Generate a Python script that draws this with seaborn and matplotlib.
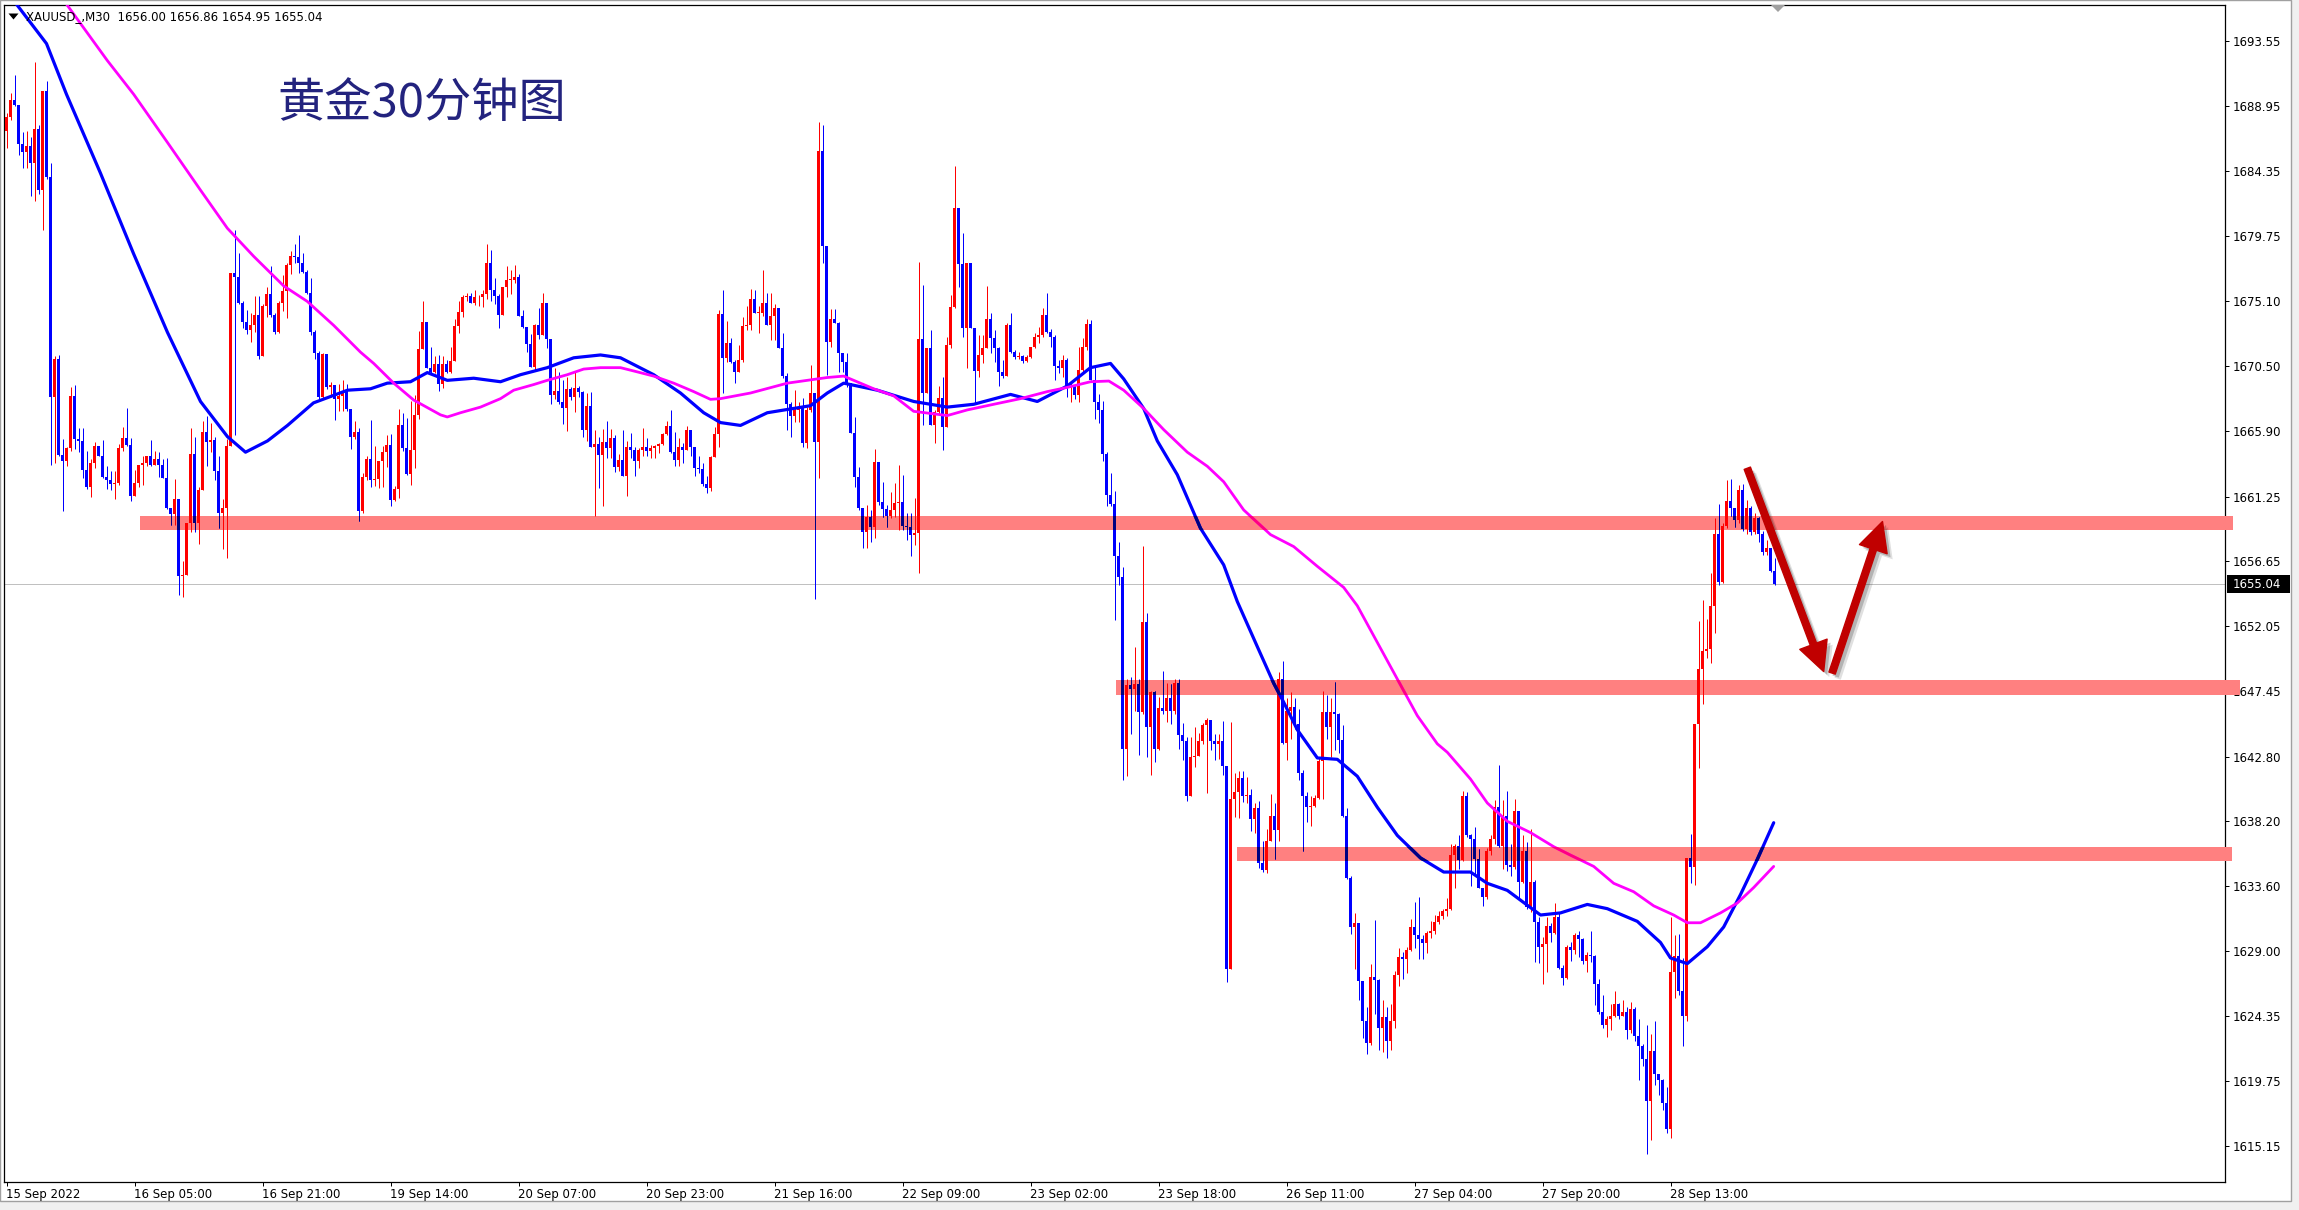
import numpy as np
import pandas as pd
import matplotlib
matplotlib.use("Agg")
import matplotlib.pyplot as plt
import seaborn as sns
from matplotlib import font_manager
from matplotlib import patheffects as pe
from matplotlib.patches import Rectangle, Polygon, FancyArrowPatch

# ---------------- data (XAUUSD M30) ----------------
closes = [
    1688.21, 1689.43, 1689.06, 1686.25, 1685.69, 1686.13, 1684.96, 1687.35, 1683.00, 1690.04,
    1683.93, 1668.29, 1670.98, 1664.18, 1663.77, 1664.67, 1668.41, 1665.36, 1665.16, 1663.16,
    1661.93, 1663.65, 1664.82, 1664.13, 1662.67, 1662.42, 1662.13, 1662.23, 1664.67, 1665.41,
    1664.92, 1661.32, 1662.23, 1663.52, 1663.60, 1664.13, 1663.52, 1663.89, 1663.52, 1662.55,
    1660.47, 1659.98, 1661.08, 1655.58, 1655.70, 1659.37, 1664.26, 1659.37, 1661.69, 1665.84,
    1665.11, 1665.23, 1663.03, 1660.10, 1660.47, 1664.87, 1677.09, 1676.84, 1675.01, 1673.67,
    1673.05, 1673.42, 1674.15, 1671.22, 1674.77, 1675.62, 1674.15, 1672.93, 1675.01, 1675.87,
    1677.70, 1678.31, 1678.26, 1677.82, 1677.21, 1675.67, 1672.93, 1671.47, 1668.29, 1671.34,
    1669.02, 1669.14, 1668.17, 1668.41, 1668.66, 1667.43, 1665.48, 1665.84, 1660.22, 1662.67,
    1663.89, 1662.44, 1662.49, 1663.74, 1664.38, 1664.92, 1661.02, 1661.78, 1666.34, 1664.69,
    1662.86, 1664.57, 1667.05, 1671.71, 1673.65, 1670.36, 1670.06, 1670.67, 1669.25, 1670.67,
    1670.06, 1670.88, 1673.37, 1674.36, 1675.38, 1675.50, 1675.02, 1675.38, 1675.45, 1675.64,
    1677.81, 1675.92, 1675.50, 1674.15, 1676.11, 1676.59, 1676.63, 1676.82, 1674.08, 1673.25,
    1672.09, 1670.48, 1673.44, 1672.73, 1674.98, 1672.42, 1668.47, 1668.71, 1667.93, 1667.53,
    1668.87, 1668.35, 1668.94, 1668.64, 1665.99, 1667.69, 1664.76, 1664.99, 1664.21, 1665.09,
    1664.69, 1665.40, 1663.34, 1663.86, 1662.68, 1664.80, 1664.52, 1663.74, 1664.52, 1664.80,
    1664.45, 1664.69, 1664.85, 1664.99, 1665.70, 1666.27, 1664.38, 1663.81, 1664.76, 1664.52,
    1665.99, 1664.76, 1663.27, 1663.20, 1662.15, 1661.85, 1664.05, 1665.70, 1674.22, 1671.07,
    1672.13, 1670.83, 1670.12, 1670.95, 1673.36, 1673.40, 1675.25, 1674.26, 1674.30, 1675.02,
    1673.43, 1674.07, 1674.61, 1671.78, 1669.81, 1667.83, 1666.97, 1667.40, 1667.52, 1665.03,
    1667.40, 1668.58, 1665.15, 1685.80, 1679.04, 1672.25, 1673.83, 1673.60, 1671.42, 1670.83,
    1669.29, 1665.74, 1662.67, 1660.42, 1658.76, 1659.83, 1659.12, 1663.73, 1660.89, 1660.35,
    1659.88, 1660.30, 1660.82, 1660.89, 1659.17, 1659.07, 1658.53, 1658.69, 1672.41, 1668.58,
    1671.78, 1666.33, 1667.28, 1668.23, 1666.22, 1672.01, 1674.73, 1681.71, 1677.76, 1673.19,
    1677.81, 1673.19, 1670.19, 1671.30, 1671.78, 1673.83, 1672.49, 1671.78, 1670.12, 1669.81,
    1673.43, 1671.54, 1671.14, 1671.23, 1670.90, 1671.19, 1671.89, 1672.56, 1672.72, 1674.14,
    1672.96, 1672.61, 1670.52, 1670.36, 1670.95, 1669.06, 1669.10, 1668.46, 1670.24, 1671.85,
    1673.50, 1669.53, 1667.99, 1667.40, 1664.25, 1661.38, 1660.73, 1657.01, 1655.51, 1643.33,
    1647.89, 1647.56, 1647.96, 1645.94, 1652.36, 1644.86, 1647.37, 1643.33, 1646.26, 1646.00,
    1646.98, 1646.00, 1648.02, 1644.31, 1643.88, 1639.97, 1642.74, 1642.81, 1643.88, 1645.02,
    1645.41, 1643.88, 1643.72, 1643.88, 1642.16, 1627.75, 1639.81, 1640.30, 1641.28, 1639.97,
    1640.05, 1638.34, 1639.16, 1635.25, 1634.76, 1636.81, 1638.57, 1637.59, 1648.28, 1643.78,
    1646.00, 1646.33, 1645.09, 1641.60, 1639.97, 1639.22, 1639.32, 1639.87, 1642.48, 1645.94,
    1644.86, 1645.94, 1645.84, 1643.98, 1638.57, 1634.21, 1630.69, 1631.01, 1626.84, 1624.00,
    1622.50, 1627.17, 1626.94, 1623.50, 1624.30, 1622.60, 1624.00, 1627.26, 1628.57, 1628.40,
    1629.06, 1630.69, 1630.10, 1629.87, 1629.59, 1630.24, 1630.40, 1631.06, 1631.45, 1631.87,
    1631.97, 1635.78, 1636.43, 1635.46, 1640.02, 1637.25, 1636.92, 1635.55, 1633.50, 1632.85,
    1636.11, 1636.92, 1639.20, 1636.43, 1638.55, 1635.13, 1634.97, 1638.94, 1633.92, 1636.11,
    1632.10, 1633.92, 1631.06, 1629.26, 1629.49, 1630.80, 1630.24, 1631.38, 1627.80, 1627.08,
    1629.26, 1629.04, 1630.14, 1629.82, 1628.29, 1628.71, 1628.61, 1626.66, 1624.70, 1623.72,
    1624.15, 1624.37, 1625.26, 1624.37, 1624.70, 1623.40, 1624.86, 1622.98, 1622.26, 1621.35,
    1618.35, 1621.87, 1620.30, 1619.81, 1618.18, 1616.39, 1627.54, 1628.61, 1626.17, 1624.37,
    1635.62, 1634.97, 1645.13, 1649.04, 1650.28, 1650.44, 1653.47, 1658.59, 1655.17, 1659.14,
    1660.97, 1660.45, 1659.57, 1661.75, 1658.92, 1660.45, 1658.75, 1659.73, 1658.59, 1657.29,
    1657.61, 1656.00, 1655.04,
]
highs = [
    1688.45, 1689.92, 1691.14, 1689.06, 1687.11, 1687.23, 1686.74, 1692.12, 1687.65, 1690.04,
    1690.77, 1684.91, 1671.22, 1671.27, 1665.36, 1664.74, 1669.02, 1669.14, 1666.09, 1666.09,
    1664.50, 1663.89, 1665.11, 1664.87, 1665.23, 1663.40, 1663.03, 1663.03, 1664.99, 1666.21,
    1667.56, 1665.41, 1663.16, 1663.52, 1664.13, 1664.13, 1665.23, 1664.50, 1664.38, 1663.89,
    1664.01, 1660.47, 1662.47, 1661.08, 1656.68, 1659.37, 1666.09, 1665.48, 1661.93, 1666.58,
    1666.94, 1666.46, 1665.48, 1664.13, 1661.08, 1665.36, 1677.09, 1680.14, 1678.55, 1675.13,
    1674.52, 1674.28, 1675.50, 1675.50, 1674.89, 1676.11, 1677.58, 1674.28, 1675.13, 1676.97,
    1677.82, 1678.68, 1679.17, 1679.82, 1678.55, 1677.33, 1676.79, 1673.05, 1671.59, 1671.47,
    1671.34, 1669.39, 1669.02, 1669.27, 1669.51, 1669.27, 1667.36, 1666.58, 1666.09, 1662.91,
    1664.13, 1666.65, 1664.85, 1663.74, 1664.85, 1665.63, 1665.70, 1661.97, 1667.45, 1667.17,
    1666.82, 1668.00, 1668.47, 1672.97, 1675.10, 1673.65, 1671.90, 1671.24, 1671.31, 1671.24,
    1670.91, 1671.90, 1673.84, 1675.10, 1675.57, 1675.73, 1675.73, 1675.92, 1675.57, 1675.92,
    1679.19, 1678.76, 1676.75, 1675.64, 1676.11, 1677.63, 1677.30, 1677.70, 1677.06, 1674.46,
    1673.32, 1672.80, 1673.51, 1674.62, 1675.73, 1674.98, 1672.26, 1670.36, 1670.06, 1669.54,
    1669.77, 1669.06, 1670.06, 1669.11, 1668.71, 1668.59, 1668.64, 1665.94, 1665.51, 1666.03,
    1666.58, 1666.03, 1665.63, 1664.28, 1665.99, 1665.16, 1665.75, 1664.80, 1664.69, 1666.10,
    1665.40, 1664.92, 1664.92, 1665.04, 1665.75, 1666.58, 1667.36, 1665.80, 1665.40, 1665.04,
    1666.27, 1665.99, 1664.76, 1664.14, 1663.62, 1662.72, 1664.14, 1666.22, 1674.46, 1675.92,
    1673.74, 1672.49, 1670.95, 1672.01, 1674.02, 1674.78, 1675.96, 1675.92, 1674.78, 1677.33,
    1675.73, 1675.73, 1674.92, 1674.61, 1672.84, 1670.00, 1667.99, 1668.82, 1667.99, 1668.23,
    1667.64, 1670.59, 1668.63, 1687.86, 1687.63, 1678.75, 1674.54, 1674.54, 1673.67, 1671.42,
    1671.42, 1669.01, 1666.93, 1663.38, 1660.42, 1660.66, 1660.30, 1664.61, 1663.57, 1662.31,
    1660.66, 1661.60, 1662.19, 1663.50, 1662.79, 1660.07, 1660.07, 1661.13, 1677.93, 1676.27,
    1671.78, 1673.08, 1667.40, 1669.10, 1669.77, 1672.61, 1675.56, 1684.72, 1681.71, 1679.94,
    1677.86, 1677.81, 1672.37, 1672.72, 1672.72, 1676.20, 1674.26, 1673.08, 1671.89, 1670.95,
    1673.55, 1674.26, 1671.66, 1671.54, 1671.30, 1671.30, 1671.89, 1672.84, 1673.31, 1674.61,
    1675.73, 1673.12, 1672.72, 1670.95, 1671.30, 1671.07, 1669.30, 1669.10, 1671.89, 1672.49,
    1673.83, 1673.79, 1670.47, 1668.50, 1668.00, 1664.40, 1662.94, 1661.64, 1658.06, 1656.26,
    1648.28, 1648.44, 1650.56, 1648.28, 1657.73, 1653.01, 1647.47, 1647.47, 1647.04, 1648.87,
    1648.02, 1647.96, 1648.28, 1648.28, 1645.19, 1644.21, 1644.21, 1644.86, 1644.44, 1645.19,
    1645.51, 1645.35, 1644.37, 1644.37, 1645.35, 1642.09, 1645.28, 1641.60, 1641.76, 1641.76,
    1641.37, 1640.46, 1639.48, 1639.65, 1636.81, 1637.69, 1640.14, 1639.48, 1648.77, 1649.58,
    1646.98, 1647.37, 1646.98, 1646.16, 1641.83, 1640.30, 1640.00, 1640.10, 1642.74, 1647.47,
    1647.14, 1646.98, 1648.12, 1645.90, 1645.02, 1639.16, 1634.30, 1631.66, 1631.00, 1626.90,
    1625.00, 1628.08, 1631.17, 1627.00, 1625.50, 1625.00, 1625.20, 1627.60, 1629.22, 1628.90,
    1629.30, 1631.30, 1632.50, 1632.80, 1630.14, 1630.40, 1631.12, 1631.55, 1631.80, 1632.00,
    1632.75, 1636.60, 1636.60, 1637.25, 1640.34, 1640.25, 1637.30, 1637.83, 1636.27, 1633.50,
    1636.30, 1637.25, 1639.69, 1642.20, 1639.69, 1640.34, 1636.60, 1639.79, 1638.22, 1637.25,
    1636.76, 1637.64, 1634.00, 1631.40, 1630.00, 1631.38, 1631.00, 1632.42, 1631.71, 1628.00,
    1629.40, 1629.60, 1630.30, 1630.40, 1629.90, 1628.90, 1630.40, 1628.70, 1627.00, 1625.84,
    1624.40, 1625.26, 1626.17, 1625.30, 1625.52, 1625.00, 1625.35, 1625.00, 1624.15, 1622.40,
    1623.72, 1623.07, 1624.05, 1620.30, 1619.90, 1619.32, 1631.38, 1630.14, 1630.20, 1628.50,
    1635.62, 1637.31, 1645.13, 1652.40, 1653.93, 1652.56, 1655.82, 1659.73, 1660.71, 1659.40,
    1662.40, 1662.50, 1660.40, 1662.08, 1662.17, 1661.00, 1660.60, 1660.10, 1659.80, 1658.80,
    1658.20, 1657.50, 1656.86,
]
lows = [
    1686.00, 1687.96, 1688.94, 1685.52, 1684.54, 1684.54, 1682.59, 1682.22, 1682.76, 1680.14,
    1683.81, 1663.52, 1663.64, 1664.13, 1660.22, 1663.40, 1664.50, 1664.62, 1664.43, 1662.55,
    1661.81, 1661.25, 1663.28, 1664.13, 1662.55, 1661.81, 1661.69, 1661.08, 1662.06, 1664.50,
    1664.87, 1660.96, 1661.32, 1661.93, 1662.06, 1663.40, 1663.45, 1663.52, 1662.67, 1662.55,
    1660.35, 1659.25, 1659.25, 1654.24, 1654.11, 1655.70, 1658.76, 1658.76, 1657.90, 1661.69,
    1663.40, 1664.38, 1662.42, 1659.00, 1657.54, 1656.92, 1664.87, 1665.60, 1674.89, 1673.18,
    1672.81, 1672.20, 1672.93, 1670.98, 1671.22, 1674.03, 1674.03, 1672.81, 1672.88, 1674.40,
    1673.91, 1677.04, 1677.82, 1677.09, 1677.14, 1675.62, 1672.69, 1670.98, 1668.17, 1668.17,
    1668.90, 1668.29, 1666.70, 1667.31, 1667.31, 1667.31, 1664.62, 1665.36, 1659.49, 1660.10,
    1662.42, 1661.92, 1662.01, 1661.85, 1661.92, 1663.38, 1660.55, 1660.90, 1661.14, 1664.45,
    1662.79, 1662.08, 1663.27, 1666.74, 1671.83, 1670.36, 1670.01, 1670.01, 1668.71, 1668.94,
    1670.01, 1670.01, 1670.88, 1672.85, 1674.03, 1675.10, 1675.02, 1674.86, 1674.79, 1674.69,
    1675.26, 1675.10, 1674.93, 1673.20, 1674.22, 1675.45, 1675.64, 1676.40, 1674.08, 1673.20,
    1671.48, 1670.48, 1670.13, 1672.42, 1673.04, 1671.78, 1667.83, 1668.16, 1667.83, 1666.41,
    1665.87, 1668.12, 1667.22, 1668.35, 1665.47, 1665.16, 1664.76, 1659.88, 1661.85, 1660.55,
    1663.98, 1663.98, 1662.96, 1663.03, 1662.68, 1661.30, 1663.98, 1662.72, 1663.27, 1664.14,
    1664.14, 1663.98, 1663.98, 1664.33, 1664.92, 1665.63, 1664.33, 1663.43, 1663.43, 1663.62,
    1664.52, 1664.14, 1662.68, 1662.91, 1661.97, 1661.49, 1661.68, 1664.05, 1664.80, 1668.58,
    1670.83, 1670.71, 1669.29, 1670.12, 1670.83, 1673.08, 1673.08, 1674.26, 1672.84, 1674.07,
    1673.43, 1672.37, 1672.37, 1671.78, 1669.65, 1665.98, 1665.51, 1666.57, 1666.57, 1664.80,
    1664.68, 1667.28, 1654.00, 1662.55, 1677.81, 1669.88, 1671.89, 1673.55, 1670.12, 1670.12,
    1669.06, 1665.74, 1661.96, 1660.30, 1657.58, 1657.58, 1658.05, 1658.29, 1660.66, 1659.83,
    1659.12, 1659.71, 1659.83, 1658.88, 1658.88, 1658.17, 1657.00, 1657.82, 1655.80, 1666.33,
    1668.58, 1666.33, 1665.03, 1667.04, 1664.56, 1666.22, 1671.78, 1674.61, 1676.15, 1672.56,
    1670.36, 1673.19, 1667.83, 1669.76, 1670.71, 1671.78, 1671.42, 1670.83, 1669.10, 1669.65,
    1669.81, 1671.47, 1671.00, 1671.00, 1670.71, 1670.80, 1671.10, 1671.80, 1672.13, 1672.61,
    1672.84, 1671.89, 1669.53, 1670.00, 1669.76, 1668.35, 1667.99, 1668.20, 1667.99, 1670.12,
    1671.66, 1669.53, 1666.74, 1666.50, 1663.76, 1660.60, 1660.60, 1652.52, 1654.96, 1641.11,
    1641.44, 1644.37, 1646.00, 1642.90, 1645.84, 1642.74, 1641.50, 1642.42, 1643.23, 1645.84,
    1645.28, 1645.09, 1645.84, 1643.33, 1642.58, 1639.65, 1639.97, 1642.09, 1642.81, 1643.72,
    1640.20, 1643.23, 1642.58, 1642.60, 1641.50, 1626.78, 1627.92, 1638.51, 1638.44, 1639.55,
    1639.48, 1637.53, 1637.36, 1634.92, 1634.60, 1634.53, 1636.81, 1635.51, 1636.81, 1643.72,
    1642.58, 1644.05, 1644.76, 1641.11, 1636.06, 1638.18, 1637.85, 1639.20, 1639.80, 1639.81,
    1644.05, 1642.74, 1643.23, 1643.07, 1638.51, 1634.11, 1630.20, 1627.75, 1625.50, 1622.80,
    1621.70, 1622.30, 1624.50, 1622.00, 1621.80, 1621.40, 1622.00, 1623.50, 1626.50, 1627.00,
    1627.40, 1629.00, 1629.20, 1628.40, 1628.45, 1628.84, 1629.90, 1630.20, 1630.90, 1631.30,
    1631.50, 1631.90, 1633.50, 1634.80, 1635.40, 1637.10, 1633.60, 1634.48, 1633.50, 1632.20,
    1632.69, 1635.80, 1636.60, 1636.40, 1634.80, 1634.64, 1634.31, 1634.80, 1632.69, 1633.80,
    1632.00, 1631.77, 1628.19, 1628.12, 1626.66, 1627.47, 1629.60, 1630.20, 1627.70, 1626.56,
    1627.00, 1628.30, 1628.80, 1628.60, 1628.10, 1627.47, 1628.20, 1625.13, 1624.54, 1623.50,
    1622.91, 1623.40, 1624.30, 1624.20, 1624.40, 1622.75, 1623.20, 1622.58, 1619.81, 1620.80,
    1614.60, 1615.58, 1619.49, 1618.80, 1617.70, 1616.07, 1615.74, 1625.68, 1625.90, 1622.26,
    1624.05, 1633.83, 1633.66, 1641.97, 1646.53, 1649.80, 1649.47, 1651.58, 1655.00, 1655.10,
    1659.00, 1659.89, 1659.08, 1659.40, 1658.80, 1658.60, 1658.50, 1658.60, 1658.00, 1657.10,
    1657.10, 1655.90, 1654.95,
]
first_open = 1687.23
opens = [first_open] + closes[:-1]   # each bar opens at the previous close

# moving averages (bar index, price)
blue_ma_idx = [0, 2.75, 10, 15, 23.5, 31.75, 40.25, 48.5, 55.25, 59.75, 65.25, 70.25, 76.75, 85.25, 91,
               95.2, 101, 105.2, 110.2, 116.8, 123.5, 128.5, 135.2, 141.8, 148.5, 153.5, 161.8, 168.5,
               174.3, 178.5, 183.5, 190.2, 201, 205.2, 209.3, 217.7, 226.8, 235.2, 241.8, 251, 257.7,
               265.2, 271, 276, 279.3, 284.3, 287.7, 292.7, 298.5, 304.3, 307.7, 312.7, 316.8, 319.3,
               322.7, 327.7, 332.7, 337.7, 342.7, 347.7, 353.5, 359.3, 366, 370.2, 375.2, 383.5, 388.5,
               395.2, 400.2, 407.7, 413.5, 416, 420.2, 425.2, 429.3, 433.5, 437.7, 441.8]
blue_ma_val = [1697.2, 1696.1, 1693.4, 1689.8, 1684.2, 1678.5, 1672.9, 1668.0, 1665.5, 1664.4, 1665.2,
               1666.3, 1667.9, 1668.8, 1668.9, 1669.3, 1669.4, 1670.05, 1669.5, 1669.65, 1669.4, 1669.9,
               1670.4, 1671.1, 1671.3, 1671.1, 1669.9, 1668.6, 1667.2, 1666.5, 1666.3, 1667.2, 1667.7,
               1668.6, 1669.3, 1668.8, 1668.0, 1667.6, 1667.8, 1668.5, 1668.0, 1669.1, 1670.4, 1670.7,
               1669.6, 1667.5, 1665.2, 1662.8, 1659.0, 1656.4, 1653.8, 1650.6, 1648.0, 1646.65, 1644.7,
               1642.7, 1642.6, 1641.4, 1639.2, 1637.2, 1635.6, 1634.6, 1634.6, 1633.8, 1633.3, 1631.55,
               1631.7, 1632.3, 1632.0, 1631.1, 1629.6, 1628.5, 1628.1, 1629.3, 1630.7, 1633.0, 1635.5,
               1638.1]
magenta_ma_idx = [8, 15.25, 25.2, 31.8, 40.2, 48.5, 55.2, 61.8, 69.3, 75.2, 81.8, 88.5, 91.8, 96.8, 101.8,
                  108.5, 110.2, 113.5, 118.5, 123.5, 126.8, 131.8, 135.2, 140.2, 144.3, 148.5, 153.5,
                  157.7, 161.8, 166.8, 171.8, 176, 178.5, 186, 195.2, 205.2, 209.3, 216.8, 221.8, 226.8,
                  235.2, 240.2, 246.8, 253.5, 260.2, 265.2, 271, 275.6, 279.3, 284.3, 289.3, 295.2,
                  300.2, 304.3, 309.3, 316, 321.8, 327.7, 334.3, 337.7, 342.7, 347.7, 352.7, 357.7,
                  360.2, 366, 370.2, 375.2, 381, 386.8, 391, 396.8, 401.8, 406.8, 411.8, 416.8, 420.2,
                  423.5, 428.5, 432.7, 436.8, 441.8]
magenta_ma_val = [1699.0, 1696.1, 1692.2, 1689.8, 1686.4, 1683.0, 1680.3, 1678.3, 1676.2, 1675.1, 1673.4,
                  1671.5, 1670.7, 1669.3, 1668.1, 1667.05, 1666.9, 1667.2, 1667.6, 1668.2, 1668.8,
                  1669.2, 1669.5, 1669.9, 1670.3, 1670.4, 1670.4, 1670.1, 1669.8, 1669.3, 1668.7,
                  1668.15, 1668.2, 1668.6, 1669.3, 1669.7, 1669.8, 1668.9, 1668.4, 1667.3, 1667.0,
                  1667.4, 1667.8, 1668.2, 1668.7, 1669.0, 1669.4, 1669.45, 1668.8, 1667.5, 1666.0,
                  1664.4, 1663.4, 1662.3, 1660.3, 1658.55, 1657.7, 1656.3, 1654.8, 1653.5, 1650.9,
                  1648.3, 1645.7, 1643.7, 1643.1, 1641.2, 1639.5, 1638.2, 1637.4, 1636.4, 1635.8,
                  1635.0, 1633.8, 1633.2, 1632.2, 1631.55, 1631.0, 1631.0, 1631.7, 1632.4, 1633.5,
                  1635.0]

# support / resistance zones
band_level = [1659.4, 1647.7, 1635.9]
band_start = [33.25, 277.25, 307.5]
band_end = [556.5, 558.25, 556.25]

# forecast arrows (bar index, price)
arrow_tail = [(435.2, 1663.26), (456.4, 1648.72)]
arrow_tip = [(454.3, 1648.83), (469.0, 1659.48)]

ytick_vals = [1693.55, 1688.95, 1684.35, 1679.75, 1675.10, 1670.50, 1665.90, 1661.25, 1656.65,
              1652.05, 1647.45, 1642.80, 1638.20, 1633.60, 1629.00, 1624.35, 1619.75, 1615.15]
xtick_idx = [0, 32, 64, 96, 128, 160, 192, 224, 256, 288, 320, 352, 384, 416]
xtick_labels = ["15 Sep 2022", "16 Sep 05:00", "16 Sep 21:00", "19 Sep 14:00", "20 Sep 07:00",
                "20 Sep 23:00", "21 Sep 16:00", "22 Sep 09:00", "23 Sep 02:00", "23 Sep 18:00",
                "26 Sep 11:00", "27 Sep 04:00", "27 Sep 20:00", "28 Sep 13:00"]
last_price = 1655.04
header = "XAUUSD_,M30  1656.00 1656.86 1654.95 1655.04"
title = "黄金30分钟图"

# ---------------- style ----------------
sns.set_theme(style="white")
plt.rcParams["font.family"] = ["DejaVu Sans"]
plt.rcParams["text.color"] = "black"
avail = {f.name for f in font_manager.fontManager.ttflist}
if "Liberation Sans Narrow" in avail:
    xfont, xsize = "Liberation Sans Narrow", 11
else:
    xfont, xsize = "DejaVu Sans", 8.5

W, H = 2299, 1210
fig = plt.figure(figsize=(W / 100, H / 100), dpi=100)
fig.patch.set_facecolor("#F0F0F0")


def fx(x):
    return x / W


def fy(y):
    return 1 - y / H


fig.add_artist(Rectangle((0, fy(1201)), fx(2291), 1201 / H, transform=fig.transFigure,
                         fc="white", ec="#A0A0A0", lw=1.0, zorder=0))

ax = fig.add_axes([fx(4), fy(1182), fx(2225) - fx(4), (1182 - 5) / H])
ax.set_facecolor("white")
ax.set_xlim(-0.625, -0.625 + 2221 / 4)
ax.set_ylim(1612.60, 1696.14)
PX = 0.72
BLUE_LW, MAG_LW = 2.3, 2.0

df = pd.DataFrame({"o": opens, "h": highs, "l": lows, "c": closes})
df["i"] = np.arange(len(df))
o, c = df["o"].values, df["c"].values
lo = np.minimum(df["l"].values, np.minimum(o, c))
hi = np.maximum(df["h"].values, np.maximum(o, c))
bull = c >= o
col = np.where(bull, "#FF0000", "#0000FF")
body_b = np.minimum(o, c)
body_h = np.maximum(np.abs(c - o), 0.07)
idx = df["i"].values

# current price line
ax.axhline(last_price, color="#C0C0C0", lw=PX, zorder=2)

# zones
for lev, a, b in zip(band_level, band_start, band_end):
    ax.add_patch(Rectangle((a, lev - 0.5), b - a, 1.0, fc="#FF8080", ec="none",
                           clip_on=False, zorder=3))

# candles
ax.vlines(idx, lo, hi, colors=col, lw=PX, zorder=4)
ax.bar(idx, body_h, bottom=body_b, width=0.75, color=col, lw=0, zorder=4)

# moving averages
sns.lineplot(x=blue_ma_idx, y=blue_ma_val, ax=ax, color="#0000FF", lw=BLUE_LW, sort=False,
             estimator=None, legend=False, zorder=5)
sns.lineplot(x=magenta_ma_idx, y=magenta_ma_val, ax=ax, color="#FF00FF", lw=MAG_LW, sort=False,
             estimator=None, legend=False, zorder=5)

# zone blending (darker colours where blue/magenta pass through the zones)
for lev, a, b in zip(band_level, band_start, band_end):
    clip = Rectangle((a, lev - 0.5), b - a, 1.0, transform=ax.transData)
    sel = (~bull) & (hi >= lev - 0.5) & (lo <= lev + 0.5)
    if sel.any():
        lc = ax.vlines(idx[sel], lo[sel], hi[sel], colors="#000080", lw=PX, zorder=6)
        lc.set_clip_path(clip)
        bars = ax.bar(idx[sel], body_h[sel], bottom=body_b[sel], width=0.75, color="#000080",
                      lw=0, zorder=6)
        for p in bars:
            p.set_clip_path(clip)
    l1, = ax.plot(blue_ma_idx, blue_ma_val, color="#000080", lw=BLUE_LW, zorder=7)
    l1.set_clip_path(clip)
    l2, = ax.plot(magenta_ma_idx, magenta_ma_val, color="#FF0080", lw=MAG_LW, zorder=7)
    l2.set_clip_path(clip)

# arrows
for (ta, tb) in zip(arrow_tail, arrow_tip):
    arr = FancyArrowPatch(ta, tb, arrowstyle="simple,head_length=2.1,head_width=2.1,tail_width=0.48",
                          mutation_scale=10, color="#C00000", shrinkA=0, shrinkB=0,
                          clip_on=False, zorder=9)
    arr.set_path_effects([pe.SimplePatchShadow(offset=(4, -4), shadow_rgbFace="black", alpha=0.12),
                          pe.SimplePatchShadow(offset=(2.5, -2.5), shadow_rgbFace="black", alpha=0.2),
                          pe.Normal()])
    ax.add_patch(arr)

# axes styling
for s in ax.spines.values():
    s.set_color("black")
    s.set_linewidth(0.9)
    s.set_visible(True)
ax.yaxis.tick_right()
ax.set_yticks(ytick_vals)
ax.set_yticklabels([f"{v:.2f}" for v in ytick_vals])
ax.tick_params(axis="y", which="both", right=True, left=False, direction="out", length=2.9,
               width=PX, pad=2.9, labelsize=8.5, labelcolor="black", color="black")
ax.set_xticks(xtick_idx)
ax.set_xticklabels(xtick_labels)
ax.tick_params(axis="x", which="both", bottom=True, direction="out", length=2.9, width=PX,
               pad=1.2, labelcolor="black", color="black")
for t in ax.get_xticklabels():
    t.set_ha("left")
    t.set_fontfamily(xfont)
    t.set_fontsize(xsize)
ax.set_xlabel("")
ax.set_ylabel("")
ax.grid(False)

# header, title and price label
fig.add_artist(Polygon([(fx(8.5), fy(13.5)), (fx(18.5), fy(13.5)), (fx(13.5), fy(19.5))],
                       closed=True, transform=fig.transFigure, fc="black", ec="none", zorder=10))
fig.text(fx(26), fy(17), header, fontsize=8.5, color="black", ha="left", va="center", zorder=10)
fig.add_artist(Polygon([(fx(1771), fy(5)), (fx(1785), fy(5)), (fx(1778), fy(12))], closed=True,
                       transform=fig.transFigure, fc="#A0A0A0", ec="none", zorder=10))
fig.text(fx(277), fy(104), title, fontsize=34, color="#23237E", ha="left", va="center",
         family=["Noto Sans CJK SC", "DejaVu Sans"], fontweight="light", zorder=10)
fig.add_artist(Rectangle((fx(2227), fy(593)), fx(2290) - fx(2227), 18 / H, transform=fig.transFigure,
                         fc="black", ec="none", zorder=10))
fig.text(fx(2233), fy(584), f"{last_price:.2f}", fontsize=8.5, color="white", ha="left",
         va="center", zorder=11)

fig.savefig("out.png", dpi=100, facecolor=fig.get_facecolor())
